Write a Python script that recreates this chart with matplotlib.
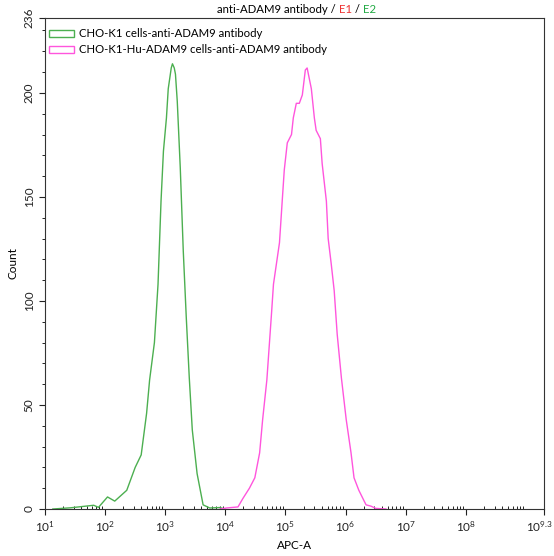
import numpy as np
import matplotlib
matplotlib.use('Agg')
import matplotlib.pyplot as plt
from matplotlib.patches import Patch
from matplotlib.ticker import FixedLocator, MultipleLocator
from matplotlib.transforms import ScaledTranslation

plt.rcParams['font.family'] = ['Lato', 'DejaVu Sans']
plt.rcParams['mathtext.default'] = 'regular'

# log10(APC-A) and counts
ctrl_log = [1.13, 1.43, 1.81, 1.89, 2.04, 2.16, 2.36, 2.50, 2.60, 2.69, 2.74, 2.82,
            2.88, 2.93, 2.97, 3.02, 3.05, 3.10, 3.12, 3.15, 3.17, 3.20, 3.25, 3.30,
            3.35, 3.40, 3.45, 3.53, 3.63, 3.74, 3.91, 3.99]
ctrl_count = [0, 0.6, 1.8, 0.8, 5.8, 3.8, 9, 20, 26, 46, 62, 80,
              108, 148, 172, 188, 202, 212, 214, 212, 209, 196, 164, 124,
              92, 63, 38, 17, 2, 0.5, 0.7, 0]

adam_log = [3.91, 4.02, 4.21, 4.29, 4.40, 4.49, 4.57, 4.62, 4.69, 4.77, 4.80, 4.85,
            4.90, 4.95, 4.98, 5.03, 5.10, 5.13, 5.18, 5.23, 5.28, 5.33, 5.36, 5.43,
            5.48, 5.51, 5.58, 5.61, 5.68, 5.71, 5.76, 5.81, 5.86, 5.93, 6.01, 6.09,
            6.14, 6.22, 6.34, 6.42, 6.50, 6.67]
adam_count = [0, 0.5, 1, 5, 10, 15, 27, 43, 62, 95, 108, 118,
              128, 150, 163, 176, 180, 188, 195, 195, 199, 211, 212, 202,
              188, 182, 178, 166, 148, 130, 118, 105, 84, 63, 43, 27,
              15, 9, 2, 1.4, 0.3, 0]

labels = ['CHO-K1 cells-anti-ADAM9 antibody', 'CHO-K1-Hu-ADAM9 cells-anti-ADAM9 antibody']
green = '#4caf50'
pink = '#ff55dd'
fs = 8.2

fig = plt.figure(figsize=(5.54, 5.56), dpi=100)
ax = fig.add_axes([0.0812, 0.0845, 0.9008, 0.8831])

ax.plot(10 ** np.array(ctrl_log), ctrl_count, color=green, lw=1)
ax.plot(10 ** np.array(adam_log), adam_count, color=pink, lw=1)

ax.set_xscale('log')
ax.set_xlim(10, 10 ** 9.3)
ax.set_ylim(0, 236)

major = [10 ** k for k in range(1, 9)] + [10 ** 9.3]
ax.xaxis.set_major_locator(FixedLocator(major))
ax.set_xticklabels([r'$10^{%d}$' % k for k in range(1, 9)] + [r'$10^{9.3}$'])
minor = [m * 10 ** k for k in range(1, 9) for m in range(2, 10) if m * 10 ** k < 10 ** 9.3]
ax.xaxis.set_minor_locator(FixedLocator(minor))

ax.set_yticks([0, 50, 100, 150, 200, 236])
ax.yaxis.set_minor_locator(MultipleLocator(10))
ax.tick_params(axis='y', labelrotation=90, labelsize=fs + 0.3, length=4, width=0.8, colors='#222222')
for t in ax.get_yticklabels():
    t.set_va('center')
ax.tick_params(axis='y', which='minor', length=2, width=0.6)
ax.tick_params(axis='x', labelsize=fs + 0.3, length=4, width=0.8, colors='#222222')
ax.tick_params(axis='x', which='minor', direction='in', length=2, width=0.6)
last = ax.get_xticklabels()[-1]
last.set_transform(last.get_transform() + ScaledTranslation(-5 / 100, 0, fig.dpi_scale_trans))

for s in ax.spines.values():
    s.set_linewidth(0.8)
    s.set_color('#333333')

ax.set_xlabel('APC-A', fontsize=fs + 0.3)
ax.set_ylabel('Count', fontsize=fs + 0.3)

handles = [Patch(facecolor='none', edgecolor=green, lw=1),
           Patch(facecolor='none', edgecolor=pink, lw=1)]
ax.legend(handles, labels, loc='upper left', bbox_to_anchor=(0.008, 0.979),
          frameon=False, fontsize=fs, handlelength=2.2, handleheight=0.6,
          borderaxespad=0, borderpad=0, labelspacing=0.45, handletextpad=0.45)

t1 = fig.text(0.392, 0.992, 'anti-ADAM9 antibody / ', fontsize=fs, va='top')
a2 = ax.annotate('E1', xy=(1, 0), xycoords=t1, va='bottom', fontsize=fs, color='#ee3333')
a3 = ax.annotate(' / ', xy=(1, 0), xycoords=a2, va='bottom', fontsize=fs)
a4 = ax.annotate('E2', xy=(1, 0), xycoords=a3, va='bottom', fontsize=fs, color='#22aa44')

fig.savefig('out.png', dpi=100)
